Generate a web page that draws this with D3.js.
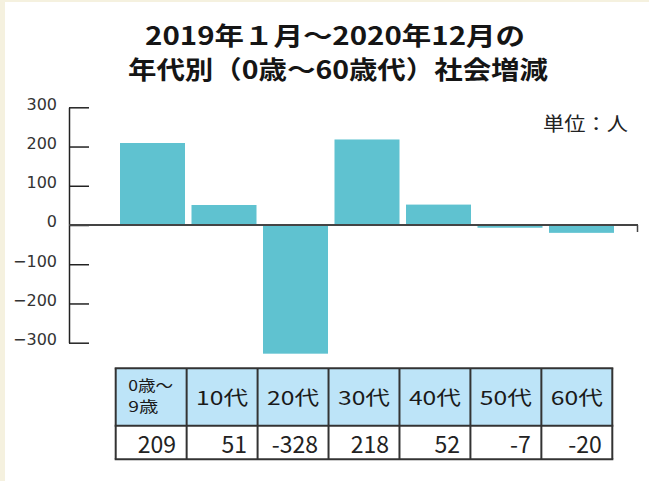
<!DOCTYPE html>
<html><head><meta charset="utf-8">
<script src="https://cdn.jsdelivr.net/npm/d3@7"></script>
<style>html,body{margin:0;padding:0;background:#f5f1df;}svg{display:block;}</style>
</head><body>
<svg id="c" width="649" height="481"></svg>
<script>
const categories = ["0歳〜9歳","10代","20代","30代","40代","50代","60代"];
const headerLabels = [["0歳〜","9歳"],["10代"],["20代"],["30代"],["40代"],["50代"],["60代"]];
const values = [209, 51, -328, 218, 52, -7, -20];
const valueLabels = ["209","51","-328","218","52","-7","-20"];
const yTicks = [300, 200, 100, 0, -100, -200, -300];
const titleLines = ["2019年１月〜2020年12月の", "年代別（0歳〜60歳代）社会増減"];
const unitLabel = "単位：人";

const svg = d3.select("#c");
const JP = "'Noto Sans CJK JP','Noto Sans',sans-serif";

svg.append("rect").attr("x",0).attr("y",0).attr("width",649).attr("height",481).attr("fill","#f5f1df");
svg.append("rect").attr("x",5).attr("y",2).attr("width",644).attr("height",479).attr("fill","#ffffff");

// title
const tl = [{t:titleLines[0], y:45, len:380, cx:335},{t:titleLines[1], y:79, len:420, cx:338}];
svg.selectAll("text.title").data(tl).join("text").attr("class","title")
  .attr("x",d=>d.cx).attr("y",d=>d.y).attr("text-anchor","middle")
  .attr("font-family",JP).attr("font-weight","bold").attr("font-size",25)
  .attr("fill","#151515")
  .attr("textLength",d=>d.len).attr("lengthAdjust","spacingAndGlyphs")
  .text(d=>d.t);

// unit
svg.append("text").attr("x",628).attr("y",131).attr("text-anchor","end")
  .attr("font-family",JP).attr("font-size",19).attr("fill","#222")
  .attr("textLength",85).attr("lengthAdjust","spacingAndGlyphs").text(unitLabel);

const y = d3.scaleLinear().domain([-300,300]).range([342.7,107.3]);
const x = d3.scaleBand().domain(categories).range([120,614]).paddingInner(0.0909).paddingOuter(0);

// bars
svg.selectAll("rect.bar").data(values).join("rect").attr("class","bar")
  .attr("x",(d,i)=>x(categories[i]))
  .attr("width",x.bandwidth())
  .attr("y",d=>y(Math.max(0,d)))
  .attr("height",d=>Math.abs(y(d)-y(0)))
  .attr("fill","#5fc2d0");

// y axis
const ax = svg.append("g").attr("transform","translate(69,0)")
  .call(d3.axisLeft(y).tickValues(yTicks).tickSizeInner(-20).tickSizeOuter(0).tickPadding(12));
ax.select(".domain").attr("stroke","#222").attr("stroke-width",1.5);
ax.selectAll(".tick line").attr("stroke","#222").attr("stroke-width",1.5);
ax.selectAll(".tick text").attr("font-family","'DejaVu Sans',sans-serif").attr("font-size",16)
  .attr("fill","#333").attr("dy","0.12em");

// zero line
svg.append("line").attr("x1",69).attr("x2",638).attr("y1",y(0)).attr("y2",y(0))
  .attr("stroke","#444").attr("stroke-width",2);
svg.append("line").attr("x1",637.5).attr("x2",637.5).attr("y1",y(0)).attr("y2",y(0)+7)
  .attr("stroke","#444").attr("stroke-width",1.5);

// table
const tx = d3.scaleBand().domain(categories).range([115.7,612.3]);
const tTop = 368.3, tMid = 425.7, tBot = 459.3;
const tg = svg.append("g");
tg.selectAll("rect.hd").data(categories).join("rect").attr("class","hd")
  .attr("x",d=>tx(d)).attr("y",tTop).attr("width",tx.bandwidth()).attr("height",tMid-tTop)
  .attr("fill","#bde4f8");
tg.selectAll("rect.vl").data(categories).join("rect").attr("class","vl")
  .attr("x",d=>tx(d)).attr("y",tMid).attr("width",tx.bandwidth()).attr("height",tBot-tMid)
  .attr("fill","#ffffff");
const vlines = categories.map(d=>tx(d)).concat([tx.range()[1]]);
tg.selectAll("line.v").data(vlines).join("line").attr("class","v")
  .attr("x1",d=>d).attr("x2",d=>d).attr("y1",tTop).attr("y2",tBot)
  .attr("stroke","#333").attr("stroke-width",2);
tg.selectAll("line.h").data([tTop,tMid,tBot]).join("line").attr("class","h")
  .attr("x1",tx.range()[0]-1).attr("x2",tx.range()[1]+1).attr("y1",d=>d).attr("y2",d=>d)
  .attr("stroke","#333").attr("stroke-width",2);

categories.forEach((c,i)=>{
  const lines = headerLabels[i];
  if(lines.length===1){
    tg.append("text").attr("x",tx(c)+tx.bandwidth()/2).attr("y",405)
      .attr("text-anchor","middle").attr("font-family",JP).attr("font-size",19).attr("fill","#1a1a1a")
      .attr("textLength",52).attr("lengthAdjust","spacingAndGlyphs").text(lines[0]);
  } else {
    tg.append("text").attr("x",tx(c)+12.5).attr("y",391)
      .attr("font-family",JP).attr("font-size",15).attr("fill","#1a1a1a")
      .attr("textLength",45).attr("lengthAdjust","spacingAndGlyphs").text(lines[0]);
    tg.append("text").attr("x",tx(c)+12.5).attr("y",412)
      .attr("font-family",JP).attr("font-size",15).attr("fill","#1a1a1a")
      .attr("textLength",30).attr("lengthAdjust","spacingAndGlyphs").text(lines[1]);
  }
});
tg.selectAll("text.val").data(valueLabels).join("text").attr("class","val")
  .attr("x",(d,i)=>tx(categories[i])+tx.bandwidth()-10.5).attr("y",453)
  .attr("text-anchor","end").attr("font-family",JP).attr("font-size",23).attr("fill","#222")
  .text(d=>d);
</script>
</body></html>
